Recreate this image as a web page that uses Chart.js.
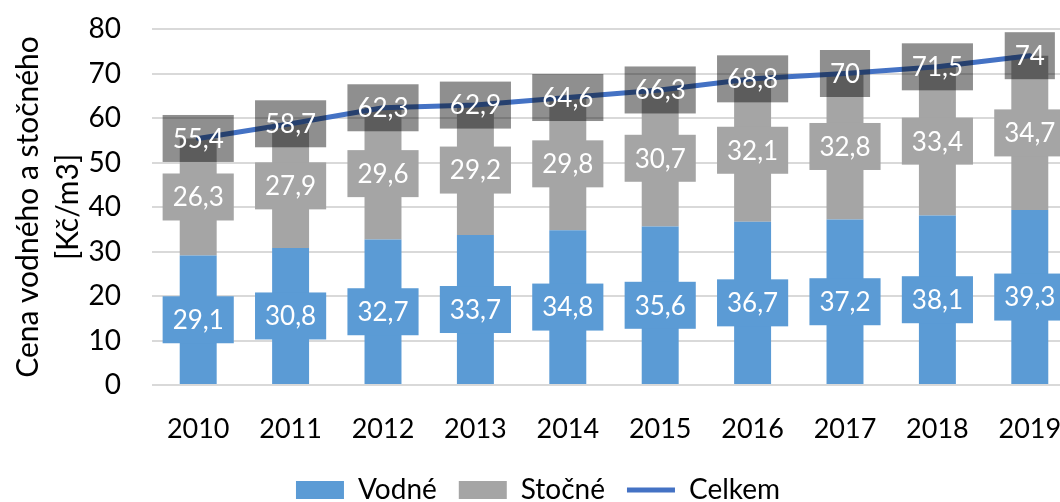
<!DOCTYPE html>
<html>
<head>
<meta charset="utf-8">
<script src="https://cdn.jsdelivr.net/npm/chart.js@4"></script>
<style>
  html, body { margin: 0; padding: 0; overflow: hidden; background: #fff; }
  #wrap { width: 1090px; height: 502px; }
</style>
</head>
<body>
<div id="wrap"><canvas id="priceChart"></canvas></div>
<script>
const years = ['2010', '2011', '2012', '2013', '2014', '2015', '2016', '2017', '2018', '2019'];
const vodne = [29.1, 30.8, 32.7, 33.7, 34.8, 35.6, 36.7, 37.2, 38.1, 39.3];
const stocne = [26.3, 27.9, 29.6, 29.2, 29.8, 30.7, 32.1, 32.8, 33.4, 34.7];
const celkem = [55.4, 58.7, 62.3, 62.9, 64.6, 66.3, 68.8, 70, 71.5, 74];

const FONT = 'Lato, "Open Sans", sans-serif';

// labels with filled boxes, like the spreadsheet data labels
const boxLabels = {
  id: 'boxLabels',
  afterDatasetsDraw(chart) {
    const ctx = chart.ctx;
    ctx.save();
    ctx.font = '26px ' + FONT;
    ctx.textAlign = 'center';
    ctx.textBaseline = 'middle';
    [0, 1, 2].forEach(i => {
      const ds = chart.data.datasets[i];
      const meta = chart.getDatasetMeta(i);
      meta.data.forEach((el, j) => {
        const txt = String(ds.data[j]).replace('.', ',');
        const x = el.x;
        const y = ds.type === 'line' ? el.y : (el.y + el.base) / 2;
        const w = ctx.measureText(txt).width + 20;
        const h = 47;
        ctx.fillStyle = ds.labelBox;
        ctx.fillRect(x - w / 2, y - h / 2, w, h);
        ctx.fillStyle = '#fff';
        ctx.fillText(txt, x, y + 1);
      });
    });
    ctx.restore();
  }
};

new Chart(document.getElementById('priceChart'), {
  data: {
    labels: years,
    datasets: [
      {
        type: 'bar',
        label: 'Vodné',
        data: vodne,
        backgroundColor: '#5B9BD5',
        labelBox: '#5B9BD5',
        stack: 'ceny',
        order: 1,
        pointStyle: 'rect',
        barPercentage: 0.5,
        categoryPercentage: 0.8
      },
      {
        type: 'bar',
        label: 'Stočné',
        data: stocne,
        backgroundColor: '#A5A5A5',
        labelBox: '#A5A5A5',
        stack: 'ceny',
        order: 1,
        pointStyle: 'rect',
        barPercentage: 0.5,
        categoryPercentage: 0.8
      },
      {
        type: 'line',
        label: 'Celkem',
        data: celkem,
        borderColor: '#4472C4',
        backgroundColor: '#4472C4',
        labelBox: 'rgba(0,0,0,0.44)',
        borderWidth: 5,
        borderCapStyle: 'round',
        tension: 0,
        pointRadius: 0,
        pointStyle: 'line',
        stack: 'celkem',
        order: 0
      }
    ]
  },
  options: {
    responsive: true,
    maintainAspectRatio: false,
    animation: false,
    layout: { padding: { top: 29, right: 14, left: 0, bottom: -12 } },
    plugins: {
      tooltip: { enabled: false },
      legend: {
        position: 'bottom',
        labels: {
          usePointStyle: true,
          pointStyleWidth: 48,
          boxHeight: 18,
          padding: 22,
          color: '#000',
          font: { family: FONT, size: 28 },
          sort: (a, b) => a.datasetIndex - b.datasetIndex
        }
      }
    },
    scales: {
      x: {
        stacked: true,
        afterFit: scale => { scale.height = 69; },
        grid: { display: false },
        border: { display: false },
        ticks: { color: '#000', padding: 20, font: { family: FONT, size: 27 } }
      },
      y: {
        stacked: true,
        min: 0,
        max: 80,
        afterFit: scale => {
          scale.width = 152;
          scale.paddingTop = 0;
          scale.paddingBottom = 0;
        },
        grid: { color: '#D9D9D9', lineWidth: 2, drawTicks: false },
        border: { display: false },
        ticks: { stepSize: 10, color: '#000', padding: 31, font: { family: FONT, size: 28 } },
        title: {
          display: true,
          text: ['Cena vodného a stočného', '[Kč/m3]'],
          color: '#000',
          padding: { top: 8, bottom: 0 },
          font: { family: FONT, size: 30, lineHeight: 1.33 }
        }
      }
    }
  },
  plugins: [boxLabels]
});
</script>
</body>
</html>
